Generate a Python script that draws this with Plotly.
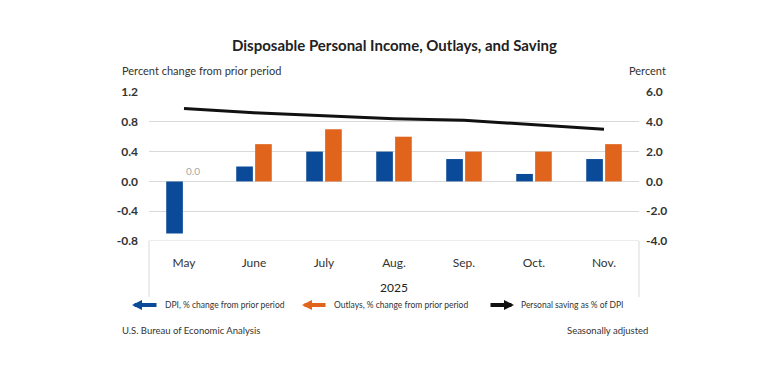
import plotly.graph_objects as go

months = ["May", "June", "July", "Aug.", "Sep.", "Oct.", "Nov."]
dpi = [-0.7, 0.2, 0.4, 0.4, 0.3, 0.1, 0.3]
outlays = [0.0, 0.5, 0.7, 0.6, 0.4, 0.4, 0.5]
saving = [4.9, 4.6, 4.4, 4.2, 4.1, 3.8, 3.5]
left_ticks = [-0.8, -0.4, 0.0, 0.4, 0.8, 1.2]
right_ticks = [-4.0, -2.0, 0.0, 2.0, 4.0, 6.0]

BLUE = "#0a4a98"
ORANGE = "#e0641c"
FONT = "Lato"
TXT = "#333333"

fig = go.Figure()
fig.add_trace(go.Bar(x=months, y=dpi, name="DPI, % change from prior period",
                     marker=dict(color=BLUE, line=dict(width=0))))
fig.add_trace(go.Bar(x=months, y=outlays, name="Outlays, % change from prior period",
                     marker=dict(color=ORANGE, line=dict(width=0))))
fig.add_trace(go.Scatter(x=months, y=saving, name="Personal saving as % of DPI",
                         mode="lines", line=dict(color="#111111", width=3), yaxis="y2"))

bargap = 0.46
bargroupgap = 0.12
offset = (1 - bargap) / 4

# page body has an 8px margin, so the figure is placed at (8, 8)
fig.update_layout(
    width=760, height=367,
    margin=dict(l=141, r=129, t=84, b=134),
    paper_bgcolor="white", plot_bgcolor="white",
    barmode="group", bargap=bargap, bargroupgap=bargroupgap,
    showlegend=False,
    font=dict(family=FONT, color=TXT),
    xaxis=dict(type="category", showgrid=False, showline=False, ticks="",
               tickfont=dict(size=12, color=TXT), ticklabelstandoff=13),
    yaxis=dict(range=[-0.8, 1.2], tickvals=left_ticks,
               ticktext=[f"{v:.1f}" for v in left_ticks],
               showgrid=True, gridcolor="#d9d9d9", gridwidth=1,
               zeroline=True, zerolinecolor="#d9d9d9", zerolinewidth=1,
               showline=False, ticks="", tickfont=dict(size=12, color=TXT, weight="bold"),
               ticklabelstandoff=10),
    yaxis2=dict(range=[-4, 6], tickvals=right_ticks,
                ticktext=[f"{v:.1f}" for v in right_ticks],
                overlaying="y", side="right", showgrid=False, zeroline=False,
                showline=False, ticks="", tickfont=dict(size=12, color=TXT, weight="bold"),
                ticklabelstandoff=6),
)

shapes = [
    dict(type="line", xref="paper", yref="y", x0=0, x1=1, y0=-0.8, y1=-0.8,
         line=dict(color="#d9d9d9", width=1)),
    dict(type="line", xref="paper", yref="paper", x0=0, x1=0, y0=0, y1=-0.376,
         line=dict(color="#d9d9d9", width=1)),
    dict(type="line", xref="paper", yref="paper", x0=1, x1=1, y0=0, y1=-0.376,
         line=dict(color="#d9d9d9", width=1)),
]
fig.update_layout(shapes=shapes)

ann = []
ann.append(dict(text="<b>Disposable Personal Income, Outlays, and Saving</b>", xref="paper", yref="paper",
                x=0.5, y=1, yshift=47, xanchor="center", yanchor="middle", showarrow=False,
                font=dict(size=15, color="#222222", family=FONT)))
ann.append(dict(text="Percent change from prior period", xref="paper", yref="paper",
                x=0, xshift=-29, y=1, yshift=22, xanchor="left", yanchor="middle", showarrow=False,
                font=dict(size=11, color=TXT, family=FONT)))
ann.append(dict(text="Percent", xref="paper", yref="paper",
                x=1, xshift=29, y=1, yshift=22, xanchor="right", yanchor="middle", showarrow=False,
                font=dict(size=11, color=TXT, family=FONT)))
ann.append(dict(text=f"{outlays[0]:.1f}", xref="x", yref="y", x=0 + offset, y=outlays[0],
                yshift=10, showarrow=False, font=dict(size=10, color="#a8a8a8", family=FONT)))
ann.append(dict(text="2025", xref="paper", yref="paper", x=0.5, y=0, yshift=-46,
                xanchor="center", yanchor="middle", showarrow=False,
                font=dict(size=12, color="#222222", family=FONT)))

leg_y = -64
plot_w = 760 - 141 - 129
legend_items = [
    (132, 158, BLUE, "DPI, % change from prior period", "left"),
    (302, 327, ORANGE, "Outlays, % change from prior period", "left"),
    (489, 514, "#111111", "Personal saving as % of DPI", "right"),
]
for x0, x1, col, label, tip in legend_items:
    px0 = (x0 - 149) / plot_w
    px1 = (x1 - 149) / plot_w
    if tip == "left":
        tx, ax = px0, (x1 - x0)
    else:
        tx, ax = px1, -(x1 - x0)
    ann.append(dict(x=tx, y=0, xref="paper", yref="paper", yshift=leg_y,
                    ax=ax, ay=0, axref="pixel", ayref="pixel",
                    showarrow=True, arrowhead=2, arrowsize=0.5, arrowwidth=4, arrowcolor=col,
                    text=""))
    ann.append(dict(text=label, xref="paper", yref="paper", x=px1, xshift=5, y=0, yshift=leg_y,
                    xanchor="left", yanchor="middle", showarrow=False,
                    font=dict(size=8.5, color=TXT, family=FONT)))

ann.append(dict(text="U.S. Bureau of Economic Analysis", xref="paper", yref="paper",
                x=0, xshift=-29, y=0, yshift=-89, xanchor="left", yanchor="middle", showarrow=False,
                font=dict(size=9.5, color=TXT, family=FONT)))
ann.append(dict(text="Seasonally adjusted", xref="paper", yref="paper",
                x=1, xshift=11, y=0, yshift=-89, xanchor="right", yanchor="middle", showarrow=False,
                font=dict(size=9.5, color=TXT, family=FONT)))
fig.update_layout(annotations=ann)

fig.write_html("out.html")
